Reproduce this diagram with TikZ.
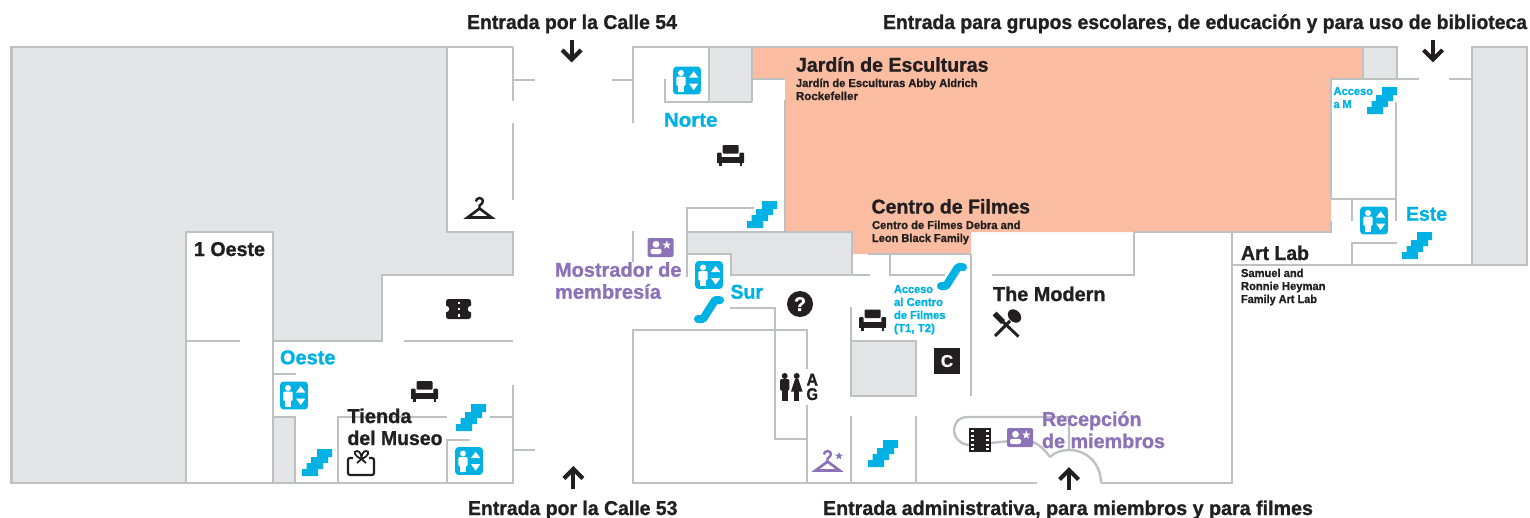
\documentclass[tikz,border=0pt]{standalone}
\usepackage{fontspec}
\usepackage{graphicx}
\setmainfont{Liberation Sans}[BoldFont={Liberation Sans Bold},BoldFeatures={FakeBold=1.1}]
\definecolor{wall}{HTML}{BEC0C2}
\definecolor{greyroom}{HTML}{E4E5E7}
\definecolor{salmon}{HTML}{FBBDA1}
\definecolor{sky}{HTML}{00B2E3}
\definecolor{lilac}{HTML}{8C72B7}
\definecolor{ink}{HTML}{231F20}
\newcommand\fitw[2]{\resizebox{#1pt}{\height}{#2}}
\newcommand\starpath[1]{(-90:#1)--(-54:0.4*#1)--(-18:#1)--(18:0.4*#1)--(54:#1)--(90:0.4*#1)--(126:#1)--(162:0.4*#1)--(198:#1)--(234:0.4*#1)--cycle}
\tikzset{
  wallline/.style={draw=wall,line width=2.4pt,line cap=butt,line join=miter},
  lbl/.style={anchor=base west,inner sep=0pt,outer sep=0pt,align=left,text=ink,font=\bfseries\fontsize{20}{22}\selectfont},
  small/.style={lbl,font=\bfseries\fontsize{11.5}{13}\selectfont},
  bluelbl/.style={lbl,text=sky},
  bluesmall/.style={small,text=sky},
  purplelbl/.style={lbl,text=lilac},
}
\newcommand\elevicon[1]{\begin{scope}[shift={(#1)}]
    \fill[sky,rounded corners=3pt] (-13.8,-13.8) rectangle (13.8,13.8);
    \fill[white] (-6,-7.5) circle (3);
    \fill[white,rounded corners=1.2pt] (-10.7,-3.8) rectangle (-1.3,5.3);
    \fill[white] (-8.8,-2) rectangle (-3.2,11);
    \fill[white] (2,-3)--(11.3,-3)--(6.65,-9.3)--cycle;
    \fill[white] (2,3)--(11.3,3)--(6.65,9.7)--cycle;
\end{scope}}
\newcommand\stairicon[1]{\begin{scope}[shift={(#1)}]
    \fill[sky] (0,27)--(16,27)--(16,20)--(21,20)--(21,14)--(26,14)--(26,8)--(30,8)--(30,0)--(15,0)--(15,8)--(9,8)--(9,14)--(4.5,14)--(4.5,20)--(0,20)--cycle;
\end{scope}}
\newcommand\escalicon[1]{\begin{scope}[shift={(#1)}]
    \draw[sky,line width=8pt,line cap=round,line join=round] (4,23)--(9,23)--(21,4.2)--(26,4.2);
\end{scope}}
\newcommand\sofaicon[1]{\begin{scope}[shift={(#1)}]
    \fill[ink,rounded corners=1pt] (5.5,0) rectangle (21.5,8.5);
    \fill[ink,rounded corners=1pt] (0,7.5) rectangle (4.6,18);
    \fill[ink,rounded corners=1pt] (22.4,7.5) rectangle (27,18);
    \fill[ink] (0,12) rectangle (27,18);
    \fill[ink] (2,18) rectangle (4.5,21);
    \fill[ink] (22.5,18) rectangle (25,21);
\end{scope}}
\newcommand\hangicon[2]{\begin{scope}[shift={(#1)}]
    \draw[#2,line width=2.7pt,line join=miter,line cap=butt] (1.5,20.5)--(25.5,20.5)--(13.5,11.5)--cycle;
    \draw[#2,line width=2.4pt] (13.5,11.5)--(13.5,8.5) .. controls (18,6.5) and (18,1) .. (13.5,1) .. controls (11,1) and (10,3) .. (10,4.5);
\end{scope}}
\newcommand\cardicon[1]{\begin{scope}[shift={(#1)}]
    \fill[lilac,rounded corners=2pt] (0,0) rectangle (26,19);
    \fill[white] (8.5,6.3) circle (3.4);
    \fill[white,rounded corners=2pt] (3,16)--(3,10.8)--(14,10.8)--(14,16)--cycle;
    \fill[white,shift={(19.3,7)}] \starpath{4.6};
\end{scope}}
\newcommand\arrowdn[1]{\begin{scope}[shift={(#1)}]
    \draw[ink,line width=4.2pt] (0,0)--(0,20);
    \draw[ink,line width=4.2pt,line join=miter] (-9.5,10.5)--(0,20)--(9.5,10.5);
\end{scope}}
\newcommand\arrowupp[1]{\begin{scope}[shift={(#1)}]
    \draw[ink,line width=4.2pt] (0,0)--(0,-20);
    \draw[ink,line width=4.2pt,line join=miter] (-9.5,-10.5)--(0,-20)--(9.5,-10.5);
\end{scope}}
\begin{document}
\begin{tikzpicture}[x=1pt,y=-1pt]
\useasboundingbox (0,0) rectangle (1530,517);
% salmon courts
\fill[salmon] (752,47)--(1363,47)--(1363,79)--(1331,79)--(1331,232)--(971,232)--(971,254)--(852,254)--(852,232)--(785,232)--(785,79)--(752,79)--cycle;
% grey rooms
\fill[greyroom] (11.5,47)--(447,47)--(447,232)--(513,232)--(513,275)--(382,275)--(382,341)--(273,341)--(273,232)--(186,232)--(186,483)--(11.5,483)--cycle;
\fill[greyroom] (273,417) rectangle (295,483);
\fill[greyroom] (709,47) rectangle (752,102);
\fill[greyroom] (687,232)--(852,232)--(852,275)--(731,275)--(731,254)--(687,254)--cycle;
\fill[greyroom] (851,341) rectangle (916,396);
\fill[greyroom] (1363,47) rectangle (1397,79);
\fill[greyroom] (1472,47) rectangle (1527,265);
% west wing walls
\draw[wallline] (513,47)--(11.5,47)--(11.5,483)--(513,483)--(513,385);
\draw[wallline] (513,47)--(513,101);
\draw[wallline] (513,123)--(513,200);
\draw[wallline] (513,80)--(535,80);
\draw[wallline] (447,47)--(447,232)--(513,232)--(513,275)--(382,275)--(382,341)--(273,341);
\draw[wallline] (186,483)--(186,232)--(273,232)--(273,483);
\draw[wallline] (186,341)--(240,341);
\draw[wallline] (404,341)--(513,341);
\draw[wallline] (296,374)--(273,374);
\draw[wallline] (273,417)--(295,417)--(295,483);
\draw[wallline] (338,483)--(338,417)--(447,417);
\draw[wallline] (490,417)--(513,417);
\draw[wallline] (513,450)--(535,450);
\draw[wallline] (447,483)--(447,440)--(470,440);
% centre walls
\draw[wallline] (633,123)--(633,47)--(1397,47)--(1397,79);
\draw[wallline] (612,80)--(633,80);
\draw[wallline] (633,231)--(633,262);
\draw[wallline] (709,47)--(709,102);
\draw[wallline] (752,47)--(752,102);
\draw[wallline] (665,79)--(665,102)--(752,102);
\draw[wallline] (752,79)--(785,79);
\draw[wallline] (785,100)--(785,233);
\draw[wallline] (754,208)--(687,208)--(687,277);
\draw[wallline] (687,232)--(852,232)--(852,275)--(731,275)--(731,254)--(687,254);
\draw[wallline] (852,275)--(870,275);
\draw[wallline] (868,254)--(971,254);
\draw[wallline] (890,254)--(890,275)--(945,275);
\draw[wallline] (971,254)--(971,396);
\draw[wallline] (992,275)--(1134,275)--(1134,232)--(1331,232)--(1331,221);
\draw[wallline] (1232,232)--(1232,483);
\draw[wallline] (730,308)--(775,308)--(775,439)--(807,439);
\draw[wallline] (807,369)--(807,330)--(633,330)--(633,483)--(1037,483);
\draw[wallline] (807,405)--(807,483);
\draw[wallline] (851,416)--(851,483);
\draw[wallline] (916,416)--(916,483);
\draw[wallline] (851,307)--(851,341)--(916,341)--(916,396)--(851,396)--cycle;
\draw[wallline] (1101,483)--(1232.5,483);
% east wing walls
\draw[wallline] (1363,47)--(1363,79);
\draw[wallline] (1331,199)--(1331,79)--(1397,79);
\draw[wallline] (1331,199)--(1396,199);
\draw[wallline] (1396,102)--(1396,221);
\draw[wallline] (1352,199)--(1352,221);
\draw[wallline] (1397,243)--(1352,243)--(1352,265);
\draw[wallline] (1232,265)--(1472,265);
\draw[wallline] (1397,79)--(1419,79);
\draw[wallline] (1449,79)--(1472,79);
\draw[wallline] (1472,47) rectangle (1527,265);
% members' entrance curves
\draw[wallline] (1069,450)--(1069,417)--(968,417) .. controls (958,417) and (954,424) .. (954,430) .. controls (954,438) and (961,445) .. (970,445)--(1010,441);
\draw[wallline] (1030,441) .. controls (1038,443) and (1045,450) .. (1050,457);
\draw[wallline] (1050,457) .. controls (1055,452) and (1062,450) .. (1069,450) .. controls (1088,450) and (1101,465) .. (1101,483);
% elevators
\elevicon{294,395.5}
\elevicon{469,461}
\elevicon{687,80.5}
\elevicon{709,275}
\elevicon{1374,220.5}
% stairs
\stairicon{302,449}
\stairicon{456,404}
\stairicon{747,201}
\stairicon{868,440}
\stairicon{1367,87}
\stairicon{1402,232}
% escalators
\escalicon{694,296}
\escalicon{937,263}
% sofas
\sofaicon{717,145}
\sofaicon{411,381}
\sofaicon{859,309.5}
% hangers, member cards
\hangicon{466,197}{ink}
\hangicon{814,450}{lilac}
\fill[lilac,shift={(839,456)}] \starpath{4.2};
\cardicon{647.5,238}
\cardicon{1007,428}
% ticket
\fill[ink,rounded corners=2.5pt] (446,299) rectangle (471,319);
\fill[white] (446,309) circle (3.2);
\fill[white] (471,309) circle (3.2);
\fill[white] (457.5,301.5) rectangle (460,304);
\fill[white] (457.5,307.8) rectangle (460,310.3);
\fill[white] (457.5,314) rectangle (460,316.5);
% question mark and letter C
\node[circle,fill=ink,text=white,minimum size=26pt,inner sep=0pt,font=\bfseries\fontsize{20}{20}\selectfont] (info) at (800,304) {?};
\node[fill=ink,text=white,minimum size=26pt,inner sep=0pt,font=\bfseries\fontsize{17}{17}\selectfont] (coat) at (947,361) {C};
% restrooms
\fill[ink] (784.7,376) circle (3);
\fill[ink,rounded corners=1.2pt] (780,379.2) rectangle (789.4,390.5);
\fill[ink] (782.3,385) rectangle (787.7,400.5);
\fill[ink] (796.7,376) circle (3);
\fill[ink] (795,379.2)--(798.4,379.2)--(802.5,391.5)--(791,391.5)--cycle;
\fill[ink] (794.4,390) rectangle (799,400.5);
\node[lbl,font=\bfseries\fontsize{17}{14.5}\selectfont] (toilets) at (806.5,400) {\fitw{11.5}{A}\\\fitw{11.5}{G}};
% fork and spoon
\fill[ink,shift={(1014.5,316)},rotate=-45] (0,0) ellipse (7.5 and 5.8);
\draw[ink,line width=2.9pt] (995,336)--(1010,321);
\draw[ink,line width=5.5pt] (994.5,313.5)--(1003,322);
\draw[ink,line width=2.9pt] (1000,319)--(1018.5,336.5);
% gift
\draw[ink,line width=2.2pt,rounded corners=2pt] (353,458)--(348,458)--(348,475)--(374,475)--(374,458)--(369,458);
\draw[ink,line width=1.8pt] (361.5,459) .. controls (354,456) and (353,451) .. (357,451) .. controls (360,451) and (361.5,455) .. (361.5,459) .. controls (361.5,455) and (363,451) .. (366,451) .. controls (370,451) and (369,456) .. (361.5,459);
\draw[ink,line width=1.8pt] (361.5,459)--(357,463);
\draw[ink,line width=1.8pt] (361.5,459)--(366,463);
% film
\fill[ink] (969,428) rectangle (991,452);
\foreach \yy in {430,434.5,439,443.5,448}{
  \fill[white] (971,\yy) rectangle (974,\yy+2.4);
  \fill[white] (986,\yy) rectangle (989,\yy+2.4);
}
% entrance arrows
\arrowdn{571.7,39.5}
\arrowdn{1433,39.5}
\arrowupp{573.3,489}
\arrowupp{1069,490}
% labels
\node[lbl] (e54) at (467,29) {\fitw{210}{Entrada por la Calle 54}};
\node[lbl] (eschool) at (883,29) {\fitw{644}{Entrada para grupos escolares, de educación y para uso de biblioteca}};
\node[lbl] (e53) at (468,515) {\fitw{209.5}{Entrada por la Calle 53}};
\node[lbl] (eadmin) at (823,515) {\fitw{490}{Entrada administrativa, para miembros y para filmes}};
\node[lbl] (jardin) at (796,71.7) {\fitw{192.5}{Jardín de Esculturas}};
\node[small] (jardinsub) at (796,100) {\fitw{181.5}{Jardín de Esculturas Abby Aldrich}\\\fitw{62}{Rockefeller}};
\node[lbl] (centro) at (871.5,213.5) {\fitw{158.5}{Centro de Filmes}};
\node[small] (centrosub) at (872,242) {\fitw{148.5}{Centro de Filmes Debra and}\\\fitw{97}{Leon Black Family}};
\node[lbl] (artlab) at (1241,260) {\fitw{68}{Art Lab}};
\node[small] (artlabsub) at (1241,303) {\fitw{62.5}{Samuel and}\\\fitw{84.5}{Ronnie Heyman}\\\fitw{76}{Family Art Lab}};
\node[lbl] (modern) at (993,301) {\fitw{112.5}{The Modern}};
\node[lbl] (oneoeste) at (194,256) {\fitw{71}{1 Oeste}};
\node[bluelbl] (oeste) at (280,364.3) {\fitw{55.5}{Oeste}};
\node[bluelbl] (norte) at (664,126.7) {\fitw{53.5}{Norte}};
\node[bluelbl] (sur) at (730.5,298.7) {\fitw{32.5}{Sur}};
\node[bluelbl] (este) at (1406,220.7) {\fitw{41}{Este}};
\node[lbl] (tienda) at (347.5,445) {\fitw{64}{Tienda}\\\fitw{95}{del Museo}};
\node[purplelbl] (mostrador) at (555,298.7) {\fitw{126.5}{Mostrador de}\\\fitw{106}{membresía}};
\node[purplelbl] (recepcion) at (1042,448) {\fitw{99.5}{Recepción}\\\fitw{123}{de miembros}};
\node[bluesmall] (accesom) at (1333.5,108) {\fitw{39.5}{Acceso}\\\fitw{18}{a M}};
\node[bluesmall] (accesocf) at (894,332) {\fitw{39}{Acceso}\\\fitw{49}{al Centro}\\\fitw{51.5}{de Filmes}\\\fitw{41}{(T1, T2)}};
\end{tikzpicture}
\end{document}
